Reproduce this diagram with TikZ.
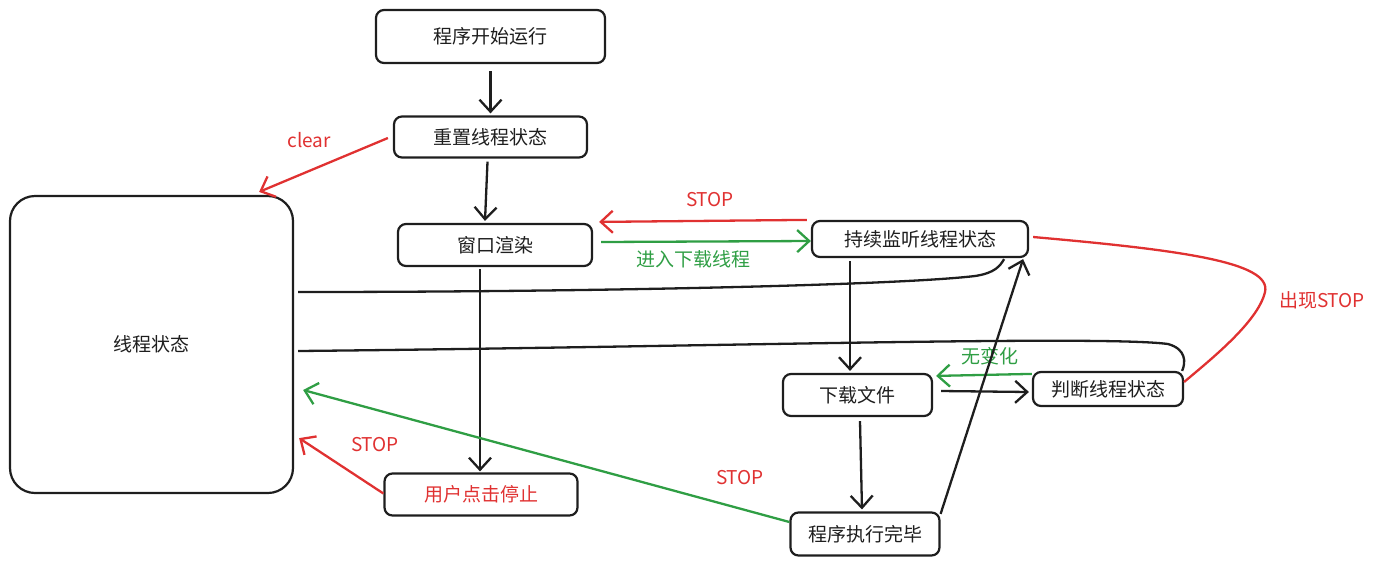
\documentclass[tikz,border=0pt]{standalone}
\usepackage{fontspec}
\setmainfont{Noto Sans CJK SC}
\usetikzlibrary{arrows.meta}
\definecolor{xred}{HTML}{E03131}
\definecolor{xgreen}{HTML}{2F9E44}
\definecolor{xblack}{HTML}{1E1E1E}
\begin{document}
\begin{tikzpicture}[x=1pt,y=-1pt,
  box/.style={draw=xblack,line width=2.2pt,rounded corners=8pt,inner sep=0pt,
    font=\fontsize{19}{22}\selectfont,text=xblack},
  lbl/.style={inner sep=0pt,font=\fontsize{19}{22}\selectfont},
  arr/.style={line width=2.3pt,draw=xblack,-{Straight Barb[length=12pt,width=22pt]}},
  line/.style={line width=2.3pt,draw=xblack},
]
\useasboundingbox (0,0) rectangle (1384,566);
% nodes
\node[box,minimum width=229pt,minimum height=53pt] (start) at (490.5,36.5) {程序开始运行};
\node[box,minimum width=193pt,minimum height=41pt] (reset) at (490.5,137) {重置线程状态};
\node[box,minimum width=194pt,minimum height=42pt] (render) at (495,245) {窗口渲染};
\node[box,minimum width=216pt,minimum height=36pt] (listen) at (920,239) {持续监听线程状态};
\node[box,minimum width=149pt,minimum height=42pt] (dl) at (857.5,395) {下载文件};
\node[box,minimum width=150pt,minimum height=34pt] (judge) at (1108,389) {判断线程状态};
\node[box,minimum width=149pt,minimum height=43pt] (done) at (865,534) {程序执行完毕};
\node[box,minimum width=193pt,minimum height=42pt,text=xred] (stop) at (481,494.5) {用户点击停止};
\node[box,rounded corners=25pt,minimum width=283pt,minimum height=297pt] (state) at (151.5,344.5) {线程状态};
% labels
\node[lbl,text=xred] (lclear) at (309,140) {clear};
\node[lbl,text=xred] (lstop1) at (710,200) {STOP};
\node[lbl,text=xgreen] (lenter) at (693,259) {进入下载线程};
\node[lbl,text=xred] (lstop2) at (375,445) {STOP};
\node[lbl,text=xred] (lstop3) at (740,478) {STOP};
\node[lbl,text=xgreen] (lnochg) at (990,356) {无变化};
\node[lbl,text=xred] (lappear) at (1322,300) {出现STOP};
% connectors
\draw[arr] ([yshift=-7pt]start.south) -- ([yshift=2pt]reset.north);
\draw[arr] ([xshift=-3pt,yshift=-3pt]reset.south) -- ([xshift=-10pt,yshift=2pt]render.north);
\draw[arr,draw=xred] ([xshift=-5pt,yshift=-1pt]reset.west) -- ([xshift=-35pt,yshift=3pt]state.north east);
\draw[arr,draw=xred] ([xshift=-4pt]listen.north west) -- ([xshift=6pt,yshift=1pt]render.north east);
\draw[arr,draw=xgreen] ([xshift=8pt,yshift=3pt]render.east) -- ([yshift=-2pt]listen.west);
\draw[arr] ([xshift=-15pt,yshift=-2pt]render.south) -- ([xshift=-1pt,yshift=1pt]stop.north);
\draw[arr,draw=xred] ([yshift=1pt]stop.west) -- ([xshift=5pt,yshift=56pt]state.south east);
\draw[arr,draw=xgreen] ([yshift=12pt]done.west) -- ([xshift=9pt,yshift=-45.5pt]state.east);
\draw[arr] ([xshift=-70pt,yshift=-3pt]listen.south) -- ([xshift=-7.5pt,yshift=2pt]dl.north);
\draw[arr] ([xshift=8pt,yshift=4pt]dl.east) -- ([xshift=-3pt,yshift=-3pt]judge.west);
\draw[arr,draw=xgreen] ([yshift=-3pt]judge.north west) -- ([xshift=3pt,yshift=-3pt]dl.north east);
\draw[arr] ([xshift=2.5pt,yshift=-4pt]dl.south) -- ([xshift=-3pt,yshift=2pt]done.north);
\draw[arr] ([yshift=-2.5pt]done.north east) -- ([xshift=-6pt,yshift=-1pt]listen.south east);
\draw[line] ([xshift=4pt,yshift=52.5pt]state.east) .. controls (600,292) and (900,285) .. (975,276)
  .. controls (995,273) and (1000,266) .. ([xshift=-25pt,yshift=-1pt]listen.south east);
\draw[line] ([xshift=4pt,yshift=-6.5pt]state.east) .. controls (700,347) and (1100,335) .. (1168,344)
  .. controls (1186,349) and (1186,362) .. ([xshift=-2pt]judge.north east);
\draw[line,draw=xred] ([xshift=4pt,yshift=2pt]listen.east) .. controls (1180,250) and (1272,262) .. (1265,292)
  .. controls (1258,322) and (1210,360) .. ([yshift=7pt]judge.east);
\end{tikzpicture}
\end{document}
